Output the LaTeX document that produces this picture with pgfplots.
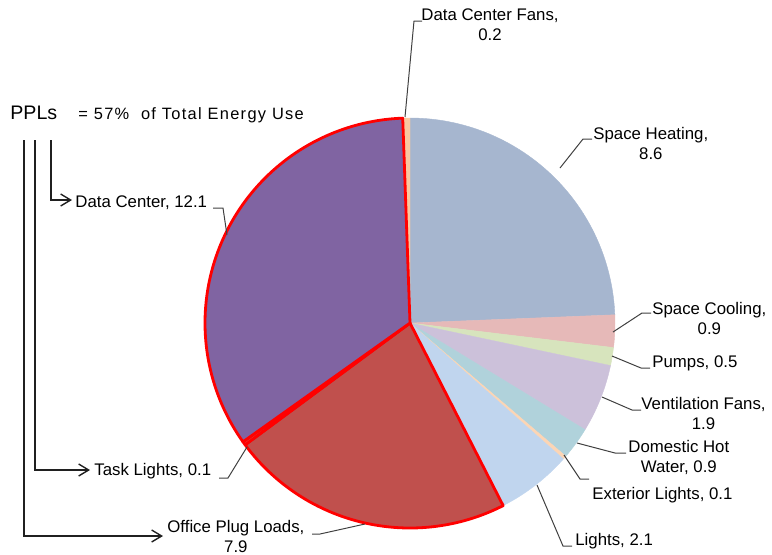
\documentclass[border=0pt]{standalone}
\usepackage{pgfplots}
\usepackage{pgfplotstable}
\pgfplotsset{compat=1.18}
\usepackage{fontspec}
\setmainfont{Liberation Sans}
\newfontfamily\spaced[LetterSpace=8]{Liberation Sans}
\usetikzlibrary{arrows.meta}

\definecolor{cSH}{HTML}{A6B6CF}
\definecolor{cSC}{HTML}{E6B9B8}
\definecolor{cPU}{HTML}{D7E4BD}
\definecolor{cVF}{HTML}{CCC1DA}
\definecolor{cDHW}{HTML}{B0D2DB}
\definecolor{cEL}{HTML}{FCD5B5}
\definecolor{cLI}{HTML}{C0D5EE}
\definecolor{cOPL}{HTML}{C0504D}
\definecolor{cTL}{HTML}{E04040}
\definecolor{cDC}{HTML}{8064A2}
\definecolor{cDCF}{HTML}{FAC8A0}
\definecolor{lead}{HTML}{404040}
\definecolor{brk}{HTML}{202020}

% energy use by end use (clockwise from 12 o'clock)
\pgfplotstableread{
id value
0 8.6
1 0.9
2 0.5
3 1.9
4 0.9
5 0.1
6 2.1
7 7.9
8 0.1
9 12.1
10 0.2
}\pietable

\newcommand\lbl{\fontsize{8.4}{10}\selectfont}

\newcommand\drawslice[2]{%
  \pgfmathsetmacro\tA{90-\csname ea#1\endcsname/\total*360}%
  \pgfmathsetmacro\tB{90-\csname sa#1\endcsname/\total*360}%
  \edef\next{\noexpand\addplot[#2,domain=\tA:\tB,samples=90,variable=\noexpand\t]
    ({410+205*cos(\noexpand\t)},{323-205*sin(\noexpand\t)}) -- (axis cs:410,323) -- cycle;}%
  \next
}

\begin{document}
\begin{tikzpicture}
\begin{axis}[scale only axis, width=386pt, height=277pt,
  xmin=0, xmax=772, ymin=0, ymax=554, y dir=reverse,
  hide axis, clip=false]

\def\cum{0}
\pgfplotsforeachungrouped \i in {0,...,10}{%
  \pgfplotstablegetelem{\i}{value}\of\pietable
  \pgfmathsetmacro\s{\cum}%
  \pgfmathsetmacro\cum{\cum+\pgfplotsretval}%
  \expandafter\xdef\csname sa\i\endcsname{\s}%
  \expandafter\xdef\csname ea\i\endcsname{\cum}%
}
\xdef\total{\cum}

\drawslice{0}{fill=cSH, draw=cSH, line width=0.2pt}
\drawslice{1}{fill=cSC, draw=cSC, line width=0.2pt}
\drawslice{2}{fill=cPU, draw=cPU, line width=0.2pt}
\drawslice{3}{fill=cVF, draw=cVF, line width=0.2pt}
\drawslice{4}{fill=cDHW, draw=cDHW, line width=0.2pt}
\drawslice{5}{fill=cEL, draw=cEL, line width=0.2pt}
\drawslice{6}{fill=cLI, draw=cLI, line width=0.2pt}
\drawslice{10}{fill=cDCF, draw=cDCF, line width=0.2pt}
\drawslice{7}{fill=cOPL, draw=red, line width=1.4pt, line join=round}
\drawslice{8}{fill=cTL, draw=red, line width=1.4pt, line join=round}
\drawslice{9}{fill=cDC, draw=red, line width=1.4pt, line join=round}

% leader lines
\draw[lead, line width=0.5pt] (405,117) -- (414,21) -- (422,21);
\draw[lead, line width=0.5pt] (560,168) -- (583,139) -- (592,139);
\draw[lead, line width=0.5pt] (613,332) -- (642,313) -- (651,313);
\draw[lead, line width=0.5pt] (612,356) -- (641,368) -- (650,368);
\draw[lead, line width=0.5pt] (602,397) -- (632,410) -- (641,410);
\draw[lead, line width=0.5pt] (577,443) -- (615,453) -- (626,453);
\draw[lead, line width=0.5pt] (564,455) -- (580,479) -- (589,479);
\draw[lead, line width=0.5pt] (537,485) -- (563,546) -- (572,546);
\draw[lead, line width=0.5pt] (365,524) -- (320,534) -- (312,534);
\draw[lead, line width=0.5pt] (247,447) -- (228,478) -- (219,478);
\draw[lead, line width=0.5pt] (227,235) -- (223,208) -- (213,208);

% labels
\node[anchor=north, inner sep=0, align=center, font=\lbl] at (490,8) {Data Center Fans,\\0.2};
\node[anchor=north west, inner sep=0, align=center, font=\lbl] at (593,127) {Space Heating,\\8.6};
\node[anchor=north west, inner sep=0, align=center, font=\lbl] at (652,302) {Space Cooling,\\0.9};
\node[anchor=north west, inner sep=0, font=\lbl] at (652,355) {Pumps, 0.5};
\node[anchor=north west, inner sep=0, align=center, font=\lbl] at (641,397) {Ventilation Fans,\\1.9};
\node[anchor=north west, inner sep=0, align=center, font=\lbl] at (628,440) {Domestic Hot\\Water, 0.9};
\node[anchor=north west, inner sep=0, font=\lbl] at (592,487) {Exterior Lights, 0.1};
\node[anchor=north west, inner sep=0, font=\lbl] at (575,533) {Lights, 2.1};
\node[anchor=north west, inner sep=0, align=center, font=\lbl] at (167,520) {Office Plug Loads,\\7.9};
\node[anchor=north west, inner sep=0, font=\lbl] at (94,463) {Task Lights, 0.1};
\node[anchor=north west, inner sep=0, font=\lbl] at (75,195) {Data Center, 12.1};

\node[anchor=north west, inner sep=0, font=\fontsize{9.8}{11}\selectfont] at (10,106) {PPLs};
\node[anchor=north west, inner sep=0, font=\fontsize{8.2}{10}\selectfont\spaced] at (78,107) {= 57\%\ \ of Total Energy Use};

% PPL brackets
\draw[brk, line width=0.7pt, -{Straight Barb[length=5pt,width=6pt]}] (51,140) -- (51,200) -- (72,200);
\draw[brk, line width=0.7pt, -{Straight Barb[length=5pt,width=6pt]}] (35,140) -- (35,470) -- (90,470);
\draw[brk, line width=0.7pt, -{Straight Barb[length=5pt,width=6pt]}] (24,140) -- (24,536) -- (163,536);

\coordinate (BL) at (0,554);
\coordinate (TR) at (772,0);
\end{axis}
\pgfresetboundingbox
\path[use as bounding box] (BL) rectangle (TR);
\end{tikzpicture}
\end{document}
